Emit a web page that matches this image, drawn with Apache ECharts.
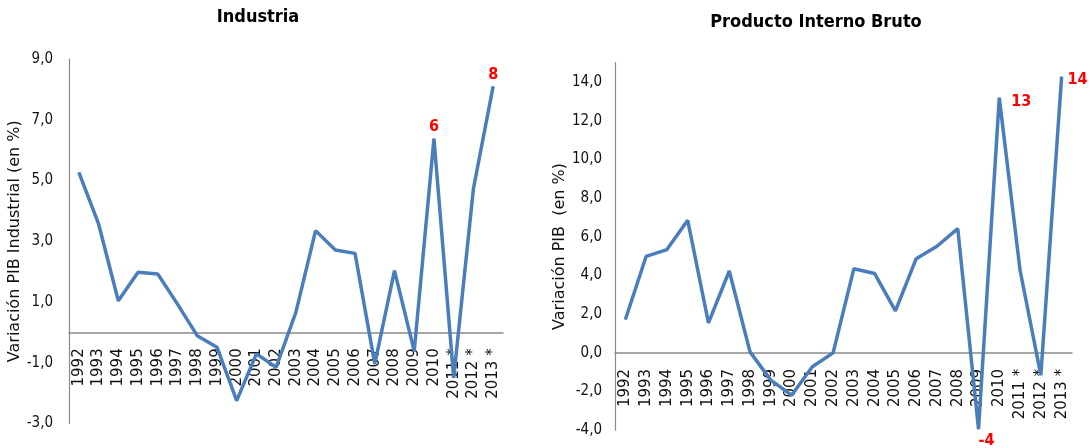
<!DOCTYPE html>
<html><head><meta charset="utf-8">
<script src="https://cdn.jsdelivr.net/npm/echarts@6/dist/echarts.min.js"></script>
<style>html,body{margin:0;padding:0;background:#fff}#c{width:1090px;height:448px}</style>
</head><body><div id="c"></div>
<script>
const years = ['1992','1993','1994','1995','1996','1997','1998','1999','2000','2001','2002','2003','2004','2005','2006','2007','2008','2009','2010','2011 *','2012 *','2013 *'];
const industria = [5.27, 3.57, 1.04, 1.98, 1.92, 0.93, -0.11, -0.49, -2.25, -0.71, -1.15, 0.66, 3.35, 2.71, 2.60, -1.04, 2.03, -0.62, 6.38, -1.5, 4.73, 8.1];
const pib = [1.72, 4.99, 5.34, 6.85, 1.55, 4.23, 0.05, -1.41, -2.19, -0.72, 0.0, 4.35, 4.10, 2.17, 4.87, 5.51, 6.42, -3.94, 13.19, 4.27, -1.15, 14.28];
const industriaTicks = [-3, -1, 1, 3, 5, 7, 9];
const pibTicks = [-4, -2, 0, 2, 4, 6, 8, 10, 12, 14];
const industriaLabelled = ['2010', '2013 *'];
const pibLabelled = ['2009', '2010', '2013 *'];

const narrow = "'Liberation Sans Narrow', 'DejaVu Sans Condensed', 'Liberation Sans', sans-serif";
const wide = "'DejaVu Sans', Verdana, sans-serif";
const lineColor = '#4A7EBB';
const axisGray = '#8a8a8a';

const grids = [
  { left: 69, top: 59.1, width: 434, height: 364.3, outerBoundsMode: 'none', containLabel: false },
  { left: 615, top: 62.7, width: 457, height: 367.5, outerBoundsMode: 'none', containLabel: false }
];
const ranges = [[-3, 9], [-4, 15]];

const leftOffsets = { '2010': [0, -12], '2013 *': [0, -12] };
const rightOffsets = { '2009': [8, 12], '2010': [22, 4], '2013 *': [16, 3] };

function buildData(values, labelled, offsets) {
  return values.map((v, i) => {
    const cat = years[i];
    if (labelled.indexOf(cat) >= 0) {
      return {
        value: v,
        label: {
          show: true, position: 'inside', offset: offsets[cat],
          formatter: p => String(Math.round(p.value)),
          color: '#ff0000', fontFamily: narrow, fontWeight: 'bold', fontSize: 16
        }
      };
    }
    return v;
  });
}

function xAxis(gridIndex) {
  const r = ranges[gridIndex];
  const zeroShift = -(0 - r[0]) / (r[1] - r[0]) * grids[gridIndex].height;
  return {
    type: 'category', gridIndex, data: years, boundaryGap: true,
    position: 'bottom', offset: zeroShift,
    axisLine: { onZero: false, lineStyle: { color: axisGray, width: 1.5 } },
    axisTick: { show: false },
    axisLabel: { interval: 0, rotate: 90, margin: 16, fontFamily: wide, fontSize: 15, color: '#111' },
    splitLine: { show: false }, z: 1
  };
}
function yAxis(gridIndex, ticks, name, gap, pad) {
  const r = ranges[gridIndex];
  return {
    type: 'value', gridIndex, min: r[0], max: r[1],
    name, nameLocation: 'middle', nameGap: gap, nameRotate: 90,
    nameTextStyle: { fontFamily: wide, fontSize: 16, color: '#111', padding: pad },
    axisLine: { show: true, onZero: false, lineStyle: { color: axisGray, width: 1.2 } },
    axisTick: { show: false },
    splitLine: { show: false },
    axisLabel: {
      customValues: ticks, margin: gridIndex === 0 ? 16 : 13,
      fontFamily: narrow, fontSize: 15, color: '#111', padding: [6, 0, 0, 0],
      formatter: v => v.toFixed(1).replace('.', ',')
    }
  };
}

const chart = echarts.init(document.getElementById('c'));
chart.setOption({
  animation: false,
  backgroundColor: '#fff',
  title: [
    { text: 'Industria', left: 253, top: 3, textAlign: 'center',
      textStyle: { fontFamily: narrow, fontWeight: 'bold', fontSize: 18, color: '#000' } },
    { text: 'Producto Interno Bruto', left: 811, top: 8, textAlign: 'center',
      textStyle: { fontFamily: narrow, fontWeight: 'bold', fontSize: 18, color: '#000' } }
  ],
  grid: grids,
  xAxis: [xAxis(0), xAxis(1)],
  yAxis: [
    yAxis(0, industriaTicks, 'Variación PIB Industrial (en %)', 44, [0, 0, 0, 0]),
    yAxis(1, pibTicks, 'Variación PIB  (en %)', 47, [0, 0, 0, 0])
  ],
  series: [
    { type: 'line', xAxisIndex: 0, yAxisIndex: 0, data: buildData(industria, industriaLabelled, leftOffsets),
      symbol: 'circle', symbolSize: 1, showSymbol: true, itemStyle: { color: lineColor },
      lineStyle: { color: lineColor, width: 3.5 }, z: 3 },
    { type: 'line', xAxisIndex: 1, yAxisIndex: 1, data: buildData(pib, pibLabelled, rightOffsets),
      symbol: 'circle', symbolSize: 1, showSymbol: true, itemStyle: { color: lineColor },
      lineStyle: { color: lineColor, width: 3.5 }, z: 3 }
  ]
});
</script>
</body></html>
